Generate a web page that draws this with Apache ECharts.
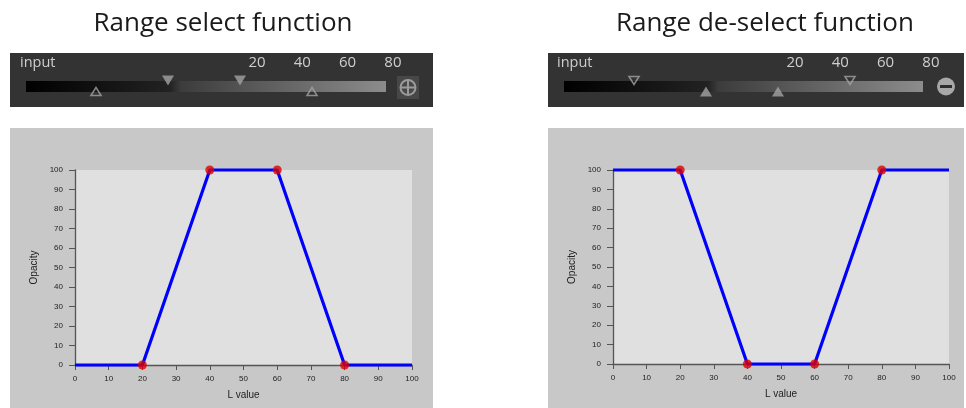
<!DOCTYPE html>
<html>
<head>
<meta charset="utf-8">
<script src="https://cdn.jsdelivr.net/npm/echarts@6/dist/echarts.min.js"></script>
<style>
html,body{margin:0;padding:0;background:#ffffff;}
#chart{width:966px;height:408px;}
</style>
</head>
<body>
<div id="chart"></div>
<script>
// ---- data ----
var titles = ['Range select function', 'Range de-select function'];
var lValues = [0, 20, 40, 60, 80, 100];
var selectOpacity = [0, 0, 100, 100, 0, 0];
var deselectOpacity = [100, 100, 0, 0, 100, 100];
var controlL = [20, 40, 60, 80];
var selectControlOpacity = [0, 100, 100, 0];
var deselectControlOpacity = [100, 0, 0, 100];
var sliderTickLabels = ['20', '40', '60', '80'];
var sliderLabel = 'input';
var xAxisName = 'L value';
var yAxisName = 'Opacity';
// slider markers: L positions of the upper (pointing down) and lower (pointing up) handles
var selectUpper = [40, 60];   // filled
var selectLower = [20, 80];   // hollow
var deselectUpper = [20, 80]; // hollow
var deselectLower = [40, 60]; // filled

function pairs(xs, ys) { return xs.map(function (x, i) { return [x, ys[i]]; }); }
function rowPts(xs, row) { return xs.map(function (x) { return [x, row]; }); }

var tickFont = 'Liberation Sans Narrow, Liberation Sans, Arial, sans-serif';

function plotXAxis(gi) {
  return {
    gridIndex: gi, type: 'value', min: 0, max: 100, interval: 10,
    name: xAxisName, nameLocation: 'middle', nameGap: 25,
    nameTextStyle: { fontFamily: 'Liberation Sans, Arial, sans-serif', fontSize: 10, color: '#222' },
    axisLine: { show: true, lineStyle: { color: '#555', width: 1.3 } },
    axisTick: { show: true, length: 5, lineStyle: { color: '#555', width: 1 } },
    axisLabel: { fontFamily: tickFont, fontSize: 8, color: '#222', margin: 10 },
    splitLine: { show: false }
  };
}
function plotYAxis(gi) {
  return {
    gridIndex: gi, type: 'value', min: 0, max: 100, interval: 10,
    name: yAxisName, nameLocation: 'middle', nameGap: 36, nameRotate: 90,
    nameTextStyle: { fontFamily: 'Liberation Sans, Arial, sans-serif', fontSize: 10, color: '#222' },
    axisLine: { show: true, lineStyle: { color: '#555', width: 1.3 } },
    axisTick: { show: true, length: 6, lineStyle: { color: '#555', width: 1 } },
    axisLabel: { fontFamily: tickFont, fontSize: 8, color: '#222', margin: 12 },
    splitLine: { show: false }
  };
}
function sliderXAxis(gi) {
  return { gridIndex: gi, type: 'value', min: 0, max: 100, show: false };
}
function sliderYAxis(gi) {
  return { gridIndex: gi, type: 'category', data: ['lower', 'upper'], boundaryGap: false, show: false };
}

var filledStyle = { color: '#a2a2a2', borderWidth: 0 };
var hollowStyle = { color: 'rgba(0,0,0,0)', borderColor: '#a2a2a2', borderWidth: 1.6 };

function marker(gi, xs, row, hollow) {
  return {
    type: 'scatter', xAxisIndex: gi, yAxisIndex: gi,
    data: rowPts(xs, row), symbol: 'triangle',
    symbolSize: hollow ? [10, 8] : [12, 10],
    symbolRotate: row === 'upper' ? 180 : 0,
    itemStyle: hollow ? hollowStyle : filledStyle,
    silent: true, z: 5
  };
}

var graphics = [];
var titleFont = '26px "Open Sans", "Noto Sans", sans-serif';
// titles
graphics.push({ type: 'text', x: 223, y: 24, z: 10,
  style: { text: titles[0], fill: '#1a1a1a', font: titleFont, textAlign: 'center', textVerticalAlign: 'middle' } });
graphics.push({ type: 'text', x: 765, y: 24, z: 10,
  style: { text: titles[1], fill: '#1a1a1a', font: titleFont, textAlign: 'center', textVerticalAlign: 'middle' } });

// slider panels
var panels = [
  { x: 10, w: 423, barX: 26, barW: 360, tickX0: 257, inputX: 20 },
  { x: 548, w: 416, barX: 564, barW: 359, tickX0: 795, inputX: 557 }
];
var grad = {
  type: 'linear', x: 0, y: 0, x2: 1, y2: 0,
  colorStops: [
    { offset: 0, color: '#000000' },
    { offset: 0.40, color: '#222222' },
    { offset: 0.43, color: '#3c3c3c' },
    { offset: 1, color: '#8c8c8c' }
  ]
};
panels.forEach(function (p, k) {
  graphics.push({ type: 'rect', z: -5, shape: { x: p.x, y: 53, width: p.w, height: 54 }, style: { fill: '#333333' } });
  graphics.push({ type: 'rect', z: 1, shape: { x: p.barX, y: 81, width: p.barW, height: 11 }, style: { fill: grad } });
  graphics.push({ type: 'text', z: 2, x: p.inputX, y: 63,
    style: { text: sliderLabel, fill: '#cfcfcf', font: '14.5px "Open Sans", "Noto Sans", sans-serif', textAlign: 'left', textVerticalAlign: 'middle' } });
  sliderTickLabels.forEach(function (t, i) {
    graphics.push({ type: 'text', z: 2, x: p.tickX0 + i * 45.3, y: 63,
      style: { text: t, fill: '#cfcfcf', font: '15px "Open Sans", "Noto Sans", sans-serif', textAlign: 'center', textVerticalAlign: 'middle' } });
  });
  // chart panel background
  graphics.push({ type: 'rect', z: -5, shape: { x: p.x, y: 128, width: p.w, height: 280 }, style: { fill: '#c8c8c8' } });
});
// plus icon (left)
graphics.push({ type: 'rect', z: 1, shape: { x: 397, y: 76, width: 22, height: 23 }, style: { fill: '#474747' } });
graphics.push({ type: 'circle', z: 2, shape: { cx: 408, cy: 87.5, r: 7.5 }, style: { fill: 'none', stroke: '#9a9a9a', lineWidth: 2 } });
graphics.push({ type: 'line', z: 2, shape: { x1: 400.5, y1: 87.5, x2: 415.5, y2: 87.5 }, style: { stroke: '#9a9a9a', lineWidth: 2 } });
graphics.push({ type: 'line', z: 2, shape: { x1: 408, y1: 80, x2: 408, y2: 95 }, style: { stroke: '#9a9a9a', lineWidth: 2 } });
// minus icon (right)
graphics.push({ type: 'circle', z: 2, shape: { cx: 946, cy: 86.5, r: 9 }, style: { fill: '#a8a8a8' } });
graphics.push({ type: 'rect', z: 3, shape: { x: 940, y: 85, width: 12, height: 3 }, style: { fill: '#2e2e2e' } });

var option = {
  backgroundColor: '#ffffff',
  animation: false,
  graphic: graphics,
  grid: [
    { left: 75, top: 170, width: 337, height: 195, show: true, backgroundColor: '#e0e0e0', borderWidth: 0 },
    { left: 613, top: 170, width: 336, height: 194, show: true, backgroundColor: '#e0e0e0', borderWidth: 0 },
    { left: 24, top: 80.5, width: 360, height: 11, show: false },
    { left: 562, top: 80.5, width: 360, height: 11, show: false }
  ],
  xAxis: [plotXAxis(0), plotXAxis(1), sliderXAxis(2), sliderXAxis(3)],
  yAxis: [plotYAxis(0), plotYAxis(1), sliderYAxis(2), sliderYAxis(3)],
  series: [
    { type: 'line', xAxisIndex: 0, yAxisIndex: 0, data: pairs(lValues, selectOpacity), showSymbol: false, clip: false,
      lineStyle: { color: '#0000ff', width: 3.2 }, z: 3 },
    { type: 'scatter', xAxisIndex: 0, yAxisIndex: 0, data: pairs(controlL, selectControlOpacity), symbol: 'circle', symbolSize: 9,
      itemStyle: { color: '#dd0000' }, z: 4, clip: false },
    { type: 'line', xAxisIndex: 1, yAxisIndex: 1, data: pairs(lValues, deselectOpacity), showSymbol: false, clip: false,
      lineStyle: { color: '#0000ff', width: 3.2 }, z: 3 },
    { type: 'scatter', xAxisIndex: 1, yAxisIndex: 1, data: pairs(controlL, deselectControlOpacity), symbol: 'circle', symbolSize: 9,
      itemStyle: { color: '#dd0000' }, z: 4, clip: false },
    marker(2, selectUpper, 'upper', false),
    marker(2, selectLower, 'lower', true),
    marker(3, deselectUpper, 'upper', true),
    marker(3, deselectLower, 'lower', false)
  ]
};
var chart = echarts.init(document.getElementById('chart'), null, { renderer: 'canvas' });
chart.setOption(option);
</script>
</body>
</html>
